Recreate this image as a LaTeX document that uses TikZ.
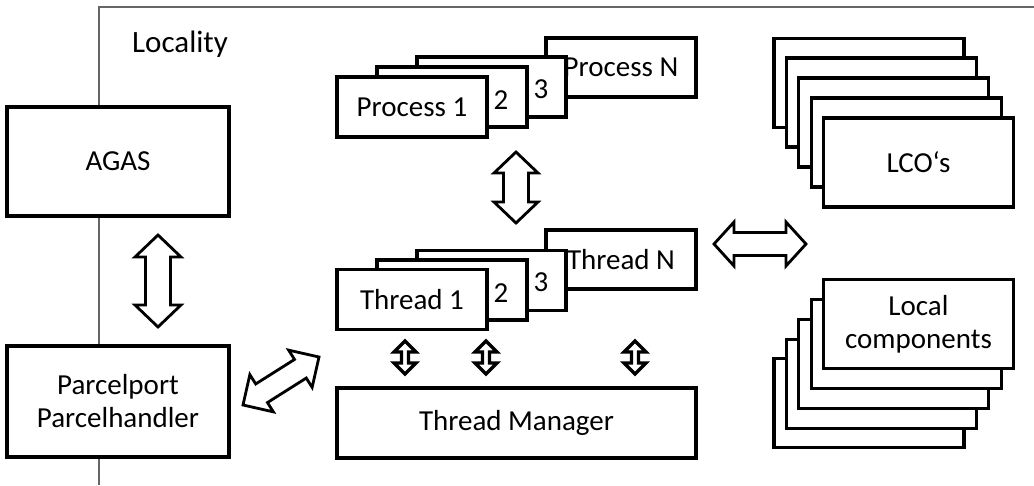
\documentclass[tikz,border=0pt]{standalone}
\usepackage{fontspec}
\setmainfont{Carlito}
\usetikzlibrary{calc}

% Hollow double-headed block arrow from #2 to #3:
% #4 head length, #5 head half-width, #6 shaft half-width
\newcommand\fatarrow[6][]{%
  \coordinate (fa-p) at ($(#2)!#4!(#3)$);
  \coordinate (fa-q) at ($(#3)!#4!(#2)$);
  \draw[blockarrow,#1] (#2)
    -- ($(fa-p)!#5!90:(#3)$) -- ($(fa-p)!#6!90:(#3)$)
    -- ($(fa-q)!#6!-90:(#2)$) -- ($(fa-q)!#5!-90:(#2)$)
    -- (#3)
    -- ($(fa-q)!#5!90:(#2)$) -- ($(fa-q)!#6!90:(#2)$)
    -- ($(fa-p)!#6!-90:(#3)$) -- ($(fa-p)!#5!-90:(#3)$)
    -- cycle;}

\begin{document}
\begin{tikzpicture}[x=1pt,y=-1pt,
  box/.style={draw, line width=3.2pt, fill=white, inner sep=0pt,
    font=\fontsize{29}{35}\selectfont, align=center},
  sz/.style 2 args={minimum width=#1pt, minimum height=#2pt},
  num/.style={inner sep=0pt, font=\fontsize{29}{35}\selectfont},
  blockarrow/.style={draw, line width=2.8pt, fill=white, line join=miter},
  smallarrow/.style={line width=3.2pt},
  frame/.style={draw=black!60, line width=1.3pt}]

\useasboundingbox (0,0) rectangle (1034,485);

% locality frame
\draw[frame] (99,485) -- (99,7) -- (1034,7);
\node[inner sep=0pt, anchor=base west, font=\fontsize{31}{36}\selectfont]
  (locality) at (132,52) {Locality};

% AGAS and parcel handling
\node[box, sz={222}{109}] (agas) at (118,161.5) {AGAS};
\node[box, sz={222}{111}] (parcel) at (118,401.5) {Parcelport\\[-2pt]Parcelhandler};

% process stack
\node[box, sz={150}{59}] (procN) at (621,67.5) {Process N};
\node[box, sz={149}{60}] (proc3) at (491.5,87) {};
\node[box, sz={150}{60}] (proc2) at (452,97) {};
\node[box, sz={150}{60}] (proc1) at (412,107) {Process 1};
\node[num] (p2) at (501,100) {2};
\node[num] (p3) at (541,89) {3};

% thread stack
\node[box, sz={150}{59}] (thrN) at (621,259.5) {Thread N};
\node[box, sz={149}{60}] (thr3) at (491.5,280.5) {};
\node[box, sz={150}{60}] (thr2) at (452,290) {};
\node[box, sz={150}{60}] (thr1) at (412,299.5) {Thread 1};
\node[num] (t2) at (501,293) {2};
\node[num] (t3) at (541,282) {3};

% thread manager
\node[box, sz={359}{70}] (tm) at (516.5,423) {Thread Manager};

% LCO stack
\node[box, sz={190}{89}] (lco5) at (869,83) {};
\node[box, sz={190}{89}] (lco4) at (881.5,102.5) {};
\node[box, sz={190}{89}] (lco3) at (893.5,122.5) {};
\node[box, sz={190}{89}] (lco2) at (906.5,142.5) {};
\node[box, sz={190}{89}] (lco1) at (918.5,162.5) {LCO‘s};

% local component stack
\node[box, sz={190}{89}] (loc5) at (869,403) {};
\node[box, sz={190}{89}] (loc4) at (881.5,384) {};
\node[box, sz={190}{89}] (loc3) at (893.5,364) {};
\node[box, sz={190}{89}] (loc2) at (906.5,344) {};
\node[box, sz={190}{89}] (loc1) at (918.5,324) {Local\\[-2pt]components};

% arrow end points
\coordinate (agasA) at (158,235);
\coordinate (parcelA) at (158,327);
\coordinate (procA) at (516,152);
\coordinate (thrA) at (516,223);
\coordinate (midA) at (714,244);
\coordinate (compA) at (806,244);
\coordinate (parcelB) at (243,405);
\coordinate (thrB) at (319,357);
\coordinate (s1a) at (405,341);
\coordinate (s1b) at (405,374);
\coordinate (s2a) at (486,341);
\coordinate (s2b) at (486,374);
\coordinate (s3a) at (635,341);
\coordinate (s3b) at (635,374);

% block arrows
\fatarrow{agasA}{parcelA}{22pt}{23pt}{12.5pt}
\fatarrow{procA}{thrA}{21pt}{22pt}{12.5pt}
\fatarrow{midA}{compA}{20pt}{22pt}{11.5pt}
\fatarrow{parcelB}{thrB}{22pt}{22pt}{11pt}
\fatarrow[smallarrow]{s1a}{s1b}{11pt}{11pt}{3.5pt}
\fatarrow[smallarrow]{s2a}{s2b}{11pt}{11pt}{3.5pt}
\fatarrow[smallarrow]{s3a}{s3b}{11pt}{11pt}{3.5pt}
\end{tikzpicture}
\end{document}
